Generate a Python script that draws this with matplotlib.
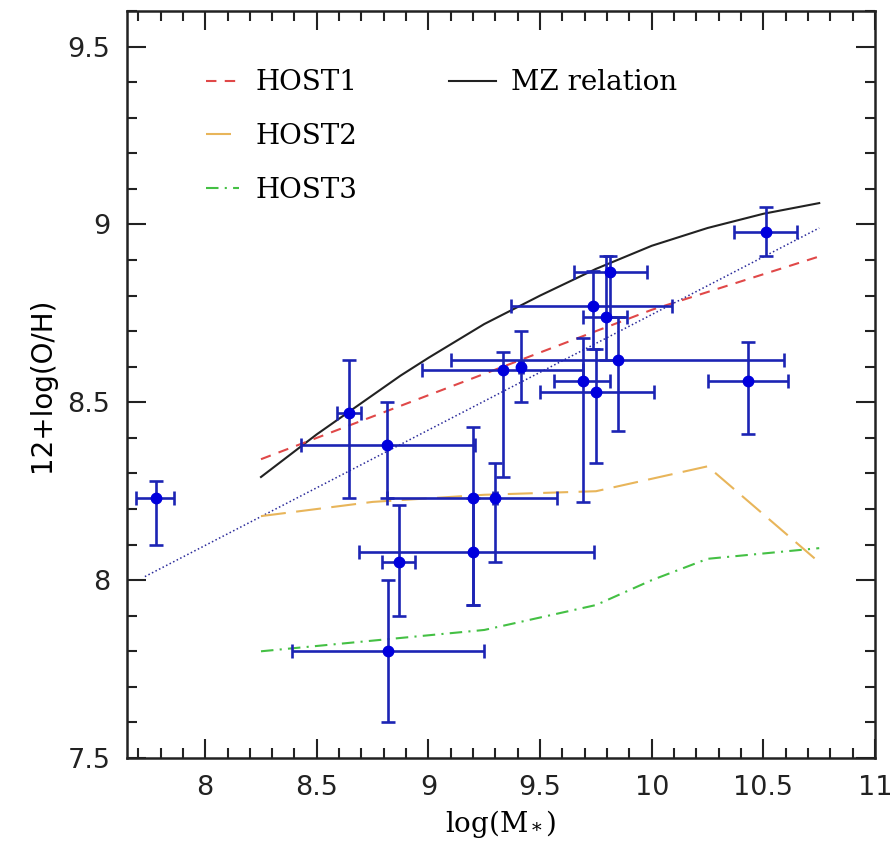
import matplotlib
matplotlib.use("Agg")
import matplotlib.pyplot as plt
from matplotlib.lines import Line2D
from matplotlib.ticker import MultipleLocator
import numpy as np

plt.rcParams['mathtext.fontset'] = 'dejavuserif'

# ---- data points (GRB host galaxies) ----
px = [7.78, 8.645, 8.815, 9.20, 9.20, 9.297, 8.87, 8.82, 9.333, 9.414,
      9.815, 9.739, 9.797, 9.694, 9.752, 9.847, 10.43, 10.51]
py = [8.23, 8.47, 8.38, 8.23, 8.08, 8.23, 8.05, 7.80, 8.59, 8.60,
      8.865, 8.77, 8.74, 8.56, 8.53, 8.62, 8.56, 8.98]
x_lo = [7.69, 8.59, 8.43, 8.815, 8.69, 9.287, 8.79, 8.39, 8.97, 9.404,
        9.65, 9.37, 9.69, 9.56, 9.50, 9.10, 10.25, 10.37]
x_hi = [7.86, 8.70, 9.21, 9.577, 9.74, 9.307, 8.94, 9.25, 9.69, 9.424,
        9.98, 10.09, 9.89, 9.815, 10.01, 10.59, 10.61, 10.65]
y_lo = [8.10, 8.23, 8.23, 7.93, 7.93, 8.05, 7.90, 7.60, 8.29, 8.50,
        8.74, 8.65, 8.62, 8.22, 8.33, 8.42, 8.41, 8.91]
y_hi = [8.28, 8.62, 8.50, 8.43, 8.23, 8.33, 8.21, 8.00, 8.64, 8.70,
        8.91, 8.87, 8.91, 8.68, 8.65, 8.74, 8.67, 9.05]

# ---- model curves ----
mz_x = [8.25, 8.375, 8.5, 8.625, 8.75, 8.875, 9.0, 9.25, 9.5, 9.75,
        10.0, 10.25, 10.5, 10.75]
mz_y = [8.29, 8.35, 8.41, 8.465, 8.52, 8.575, 8.625, 8.72, 8.80, 8.875,
        8.94, 8.99, 9.03, 9.06]

host1_x = [8.25, 8.5, 9.0, 9.5, 10.0, 10.5, 10.75]
host1_y = [8.34, 8.40, 8.52, 8.64, 8.76, 8.86, 8.91]

host2_x = [8.25, 8.75, 9.25, 9.75, 10.25, 10.75]
host2_y = [8.18, 8.22, 8.24, 8.25, 8.32, 8.05]

host3_x = [8.25, 8.75, 9.25, 9.75, 10.0, 10.25, 10.75]
host3_y = [7.80, 7.83, 7.86, 7.93, 8.00, 8.06, 8.09]

fit_x = [7.73, 10.75]
fit_y = [8.01, 8.99]

fig = plt.figure(figsize=(8.92, 8.46), dpi=100)
ax = fig.add_axes([0.1424, 0.104, 0.8386, 0.883])

ax.plot(fit_x, fit_y, color='#2a2a9a', lw=1.1, ls=(0, (1, 1.6)))
ax.plot(mz_x, mz_y, color='#222222', lw=1.5, ls='-')
ax.plot(host1_x, host1_y, color='#e04848', lw=1.5, ls=(0, (5, 4)))
ax.plot(host2_x, host2_y, color='#e8b55a', lw=1.5, ls=(0, (12, 5)))
ax.plot(host3_x, host3_y, color='#44c044', lw=1.5, ls=(0, (6, 3, 1, 3)))

px_a = np.array(px); py_a = np.array(py)
xerr = [px_a - np.array(x_lo), np.array(x_hi) - px_a]
yerr = [py_a - np.array(y_lo), np.array(y_hi) - py_a]
ax.errorbar(px, py, xerr=xerr, yerr=yerr, fmt='o', color='#0000dd',
            ecolor='#1c24b4', elinewidth=1.9, capsize=4.8, capthick=1.9,
            markersize=7.5, zorder=5)

ax.set_xlim(7.65, 11.0)
ax.set_ylim(7.5, 9.6)
ax.xaxis.set_major_locator(MultipleLocator(0.5))
ax.xaxis.set_minor_locator(MultipleLocator(0.1))
ax.yaxis.set_major_locator(MultipleLocator(0.5))
ax.yaxis.set_minor_locator(MultipleLocator(0.1))
ax.set_xticks([8, 8.5, 9, 9.5, 10, 10.5, 11])
ax.set_xticklabels(['8', '8.5', '9', '9.5', '10', '10.5', '11'])
ax.set_yticks([7.5, 8, 8.5, 9, 9.5])
ax.set_yticklabels(['7.5', '8', '8.5', '9', '9.5'])
ax.tick_params(which='both', direction='in', top=True, right=True,
               colors='#222222', width=1.5)
ax.tick_params(which='major', length=14, labelsize=19.5, pad=12)
ax.tick_params(which='minor', length=7)
for s in ax.spines.values():
    s.set_linewidth(1.8)
    s.set_color('#222222')

ax.set_xlabel('log(M$_*$)', family='DejaVu Serif', fontsize=20, labelpad=5)
ax.set_ylabel('12+log(O/H)', fontsize=20, labelpad=8)

h1 = [Line2D([], [], color='#e04848', lw=1.5, ls=(0, (5, 4))),
      Line2D([], [], color='#e8b55a', lw=1.5, ls=(0, (12, 5))),
      Line2D([], [], color='#44c044', lw=1.5, ls=(0, (6, 3, 1, 3)))]
leg1 = ax.legend(h1, ['HOST1', 'HOST2', 'HOST3'], loc='upper left',
                 bbox_to_anchor=(0.105, 0.922), frameon=False,
                 prop={'family': 'DejaVu Serif', 'size': 20},
                 handlelength=1.2, handletextpad=0.6, labelspacing=0.96,
                 borderpad=0, borderaxespad=0)
ax.add_artist(leg1)
h2 = [Line2D([], [], color='#222222', lw=1.5, ls='-')]
ax.legend(h2, ['MZ relation'], loc='upper left',
          bbox_to_anchor=(0.43, 0.922), frameon=False,
          prop={'family': 'DejaVu Serif', 'size': 20},
          handlelength=1.7, handletextpad=0.55, borderpad=0, borderaxespad=0)

fig.savefig('out.png', dpi=100)
